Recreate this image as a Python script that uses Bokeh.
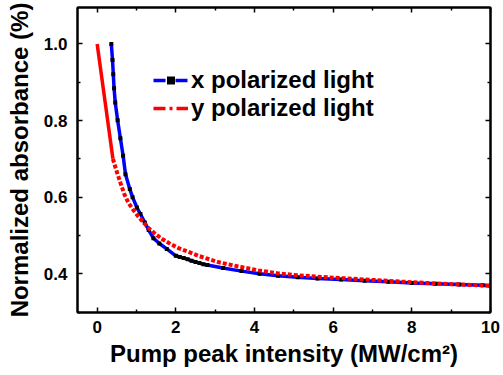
from bokeh.plotting import figure
from bokeh.models import (LinearAxis, FixedTicker, PrintfTickFormatter, Legend,
                          LegendItem, Range1d, CustomJSTickFormatter)
from bokeh.embed import file_html
from bokeh.resources import INLINE

# x polarized light
xpol_x = [0.36, 0.39, 0.41, 0.43, 0.46, 0.52, 0.59, 0.66, 0.72, 0.83, 0.90,
          1.01, 1.10, 1.21, 1.31, 1.43, 1.58, 1.77, 2.00, 2.10, 2.20, 2.30,
          2.40, 2.50, 2.60, 2.70, 2.80, 3.20, 3.67, 4.13, 4.60, 5.10, 5.60,
          6.20, 6.80, 7.40, 8.00, 8.60, 9.20, 9.80, 10.0]
xpol_y = [1.000, 0.958, 0.921, 0.884, 0.847, 0.801, 0.754, 0.708, 0.660,
          0.621, 0.600, 0.573, 0.556, 0.534, 0.514, 0.493, 0.479, 0.465,
          0.447, 0.444, 0.441, 0.438, 0.434, 0.431, 0.428, 0.425, 0.423,
          0.415, 0.407, 0.400, 0.395, 0.391, 0.388, 0.385, 0.382, 0.379,
          0.376, 0.374, 0.372, 0.370, 0.369]

# y polarized light
ypol_x = [0.0, 0.40, 0.49, 0.59, 0.69, 0.80, 0.93, 1.05, 1.18, 1.33, 1.48,
          1.65, 1.86, 2.07, 2.30, 2.60, 3.10, 3.60, 4.10, 4.60, 5.10, 6.00,
          7.00, 8.00, 9.00, 10.0]
ypol_y = [1.000, 0.700, 0.669, 0.638, 0.608, 0.584, 0.565, 0.549, 0.534,
          0.517, 0.504, 0.491, 0.478, 0.467, 0.458, 0.446, 0.430, 0.419,
          0.409, 0.401, 0.396, 0.390, 0.384, 0.378, 0.373, 0.369]

x_ticks = [0, 2, 4, 6, 8, 10]
x_minor = [1, 3, 5, 7, 9]
y_ticks = [0.4, 0.6, 0.8, 1.0]
y_minor = [0.3, 0.5, 0.7, 0.9]

FONT = "Liberation Sans"
NAN = [float("nan")]

p = figure(width=503, height=375, output_backend="svg", toolbar_location=None,
           x_range=Range1d(-0.5, 10), y_range=Range1d(0.299, 1.095),
           min_border_left=77, min_border_right=13, min_border_top=7,
           min_border_bottom=63)
p.xgrid.visible = False
p.ygrid.visible = False
p.outline_line_color = "black"
p.outline_line_width = 2
p.background_fill_color = "white"
p.border_fill_color = "white"

p.line(xpol_x, xpol_y, line_color="#0000FF", line_width=3.5)
p.scatter(xpol_x, xpol_y, marker="square", size=4,
          fill_color="black", line_color=None)
p.line(ypol_x[:2], ypol_y[:2], line_color="#FF0000", line_width=3.5)
p.line(ypol_x[1:], ypol_y[1:], line_color="#FF0000", line_width=4,
       line_dash="4 2")

# legend-only glyphs (a single NaN point draws nothing in the plot)
lg_blue = p.line(NAN, NAN, line_color="#0000FF", line_width=3.5,
                 line_dash="12 10 12 10")
lg_blue_pt = p.scatter(NAN, NAN, marker="square", size=4,
                       fill_color="black", line_color=None)
lg_red = p.line(NAN, NAN, line_color="#FF0000", line_width=3.5,
                line_dash="12 4 3 4 12 4")


def style(ax, ticks, minor, labels):
    ax.ticker = FixedTicker(ticks=ticks, minor_ticks=minor)
    ax.major_tick_in = 5
    ax.major_tick_out = 0
    ax.minor_tick_in = 3
    ax.minor_tick_out = 0
    ax.major_tick_line_width = 1.5
    ax.minor_tick_line_width = 1.5
    ax.axis_line_width = 2
    ax.axis_line_color = "black"
    ax.major_tick_line_color = "black"
    ax.minor_tick_line_color = "black"
    if labels:
        ax.major_label_text_font = FONT
        ax.major_label_text_font_style = "bold"
        ax.major_label_text_font_size = "17px"
        ax.major_label_text_color = "black"
        ax.axis_label_text_font = FONT
        ax.axis_label_text_font_style = "bold"
        ax.axis_label_text_font_size = "24px"
        ax.axis_label_text_color = "black"
    else:
        ax.formatter = CustomJSTickFormatter(code="return '';")
        ax.major_label_standoff = 0


xa = p.xaxis[0]
style(xa, x_ticks, x_minor, True)
xa.formatter = PrintfTickFormatter(format="%d")
xa.axis_label = "Pump peak intensity (MW/cm\u00b2)"
xa.major_label_standoff = 8
xa.axis_label_standoff = 4

ya = p.yaxis[0]
style(ya, y_ticks, y_minor, True)
ya.formatter = PrintfTickFormatter(format="%.1f")
ya.axis_label = "Normalized absorbance (%)"
ya.major_label_standoff = 10
ya.axis_label_standoff = 8

top = LinearAxis()
style(top, x_ticks, x_minor, False)
p.add_layout(top, "above")
right = LinearAxis()
style(right, y_ticks, y_minor, False)
p.add_layout(right, "right")

legend = Legend(items=[
    LegendItem(label="x polarized light", renderers=[lg_blue, lg_blue_pt]),
    LegendItem(label="y polarized light", renderers=[lg_red]),
], location=(76, 190), orientation="vertical")
legend.label_text_font = FONT
legend.label_text_font_style = "bold"
legend.label_text_font_size = "24px"
legend.label_text_color = "black"
legend.glyph_width = 35
legend.glyph_height = 20
legend.label_standoff = 3
legend.spacing = 0
legend.padding = 0
legend.margin = 0
legend.border_line_color = None
legend.background_fill_alpha = 0
legend.label_height = 28
p.add_layout(legend, "center")

open("out.html", "w").write(file_html(p, INLINE))
